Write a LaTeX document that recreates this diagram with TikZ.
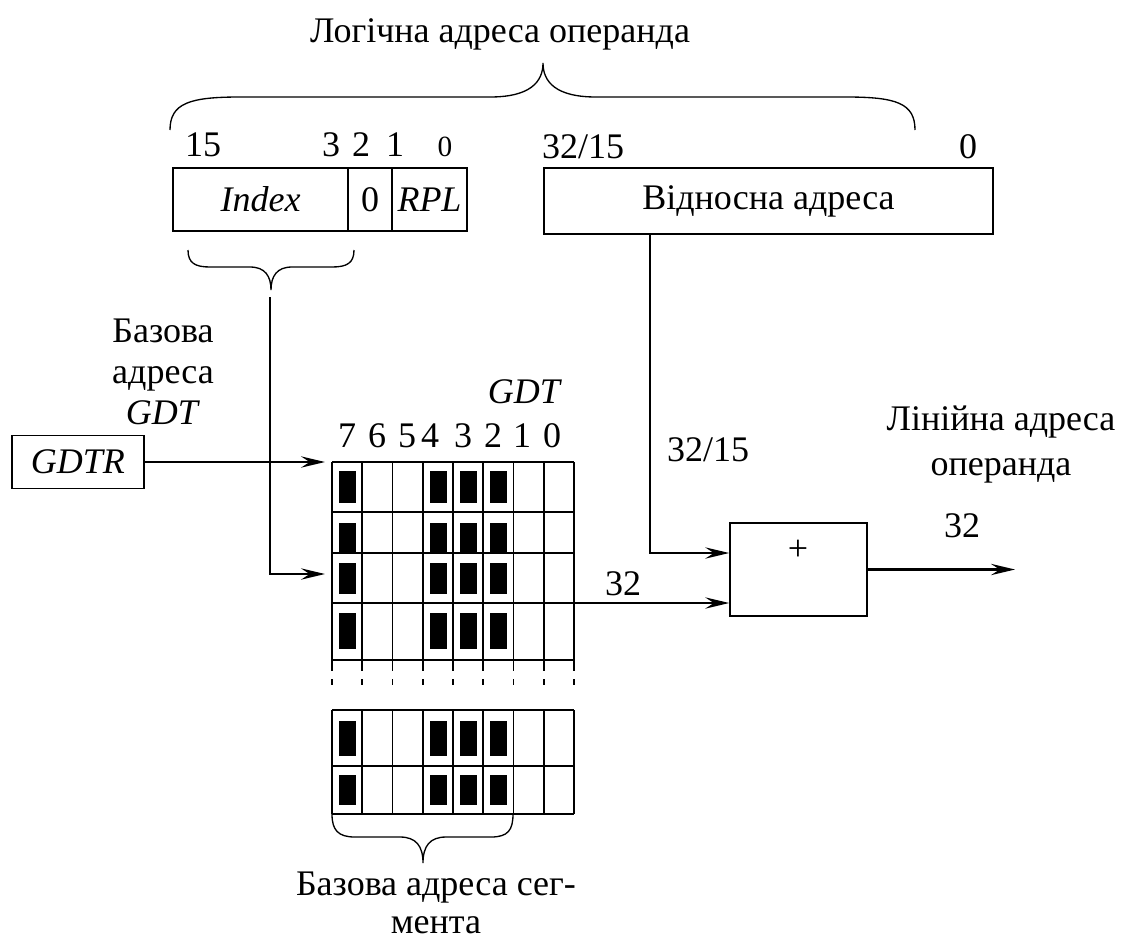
\documentclass[tikz,border=0pt]{standalone}
\usepackage{fontspec}
\setmainfont{Liberation Serif}
\usetikzlibrary{arrows.meta}
\begin{document}
\begin{tikzpicture}[x=0.75pt,y=-0.75pt,
  font=\fontsize{27}{30}\selectfont,
  box/.style={draw, line width=1.2pt, inner sep=0pt, anchor=center},
  lbl/.style={inner sep=0pt, anchor=center},
  small/.style={inner sep=0pt, anchor=center, font=\fontsize{22}{24}\selectfont},
  arr/.style={line width=1.6pt, -{Stealth[length=18pt,width=8.5pt,inset=6.5pt]}},
  brace/.style={line width=1pt},
  gridline/.style={line width=1.2pt}]
\useasboundingbox (0,0) rectangle (1123,940);

% title and big brace
\node[lbl] (title) at (500,34) {Логічна адреса операнда};
\draw[brace] (170,130) .. controls (170,103) and (190,97) .. (240,97) -- (490,97)
  .. controls (530,97) and (543,82) .. (543,63)
  .. controls (543,82) and (556,97) .. (596,97) -- (846,97)
  .. controls (896,97) and (915,103) .. (915,130);

% bit numbers
\node[lbl] (b15) at (203,145) {15};
\node[lbl] (b3) at (331,145) {3};
\node[lbl] (b2) at (361,145) {2};
\node[lbl] (b1) at (395,145) {1};
\node[small] (b0) at (445,147) {0};
\node[lbl] (r32) at (583,147) {32/15};
\node[lbl] (r0) at (968,147) {0};

% selector boxes
\node[box, minimum width=131.25pt, minimum height=47.25pt] (idx) at (260.5,199.5) {\textit{Index}};
\node[box, minimum width=33pt, minimum height=47.25pt] (zero) at (370,199.5) {0};
\node[box, minimum width=56.25pt, minimum height=47.25pt] (rpl) at (429.5,199.5) {\textit{RPL}};
\node[box, minimum width=336.75pt, minimum height=49.5pt] (rel) at (768.5,201) {Відносна адреса};

% small brace under Index
\draw[brace] (188,250) .. controls (188,263) and (195,267) .. (210,267) -- (250,267)
  .. controls (265,267) and (271,276) .. (271,290)
  .. controls (271,276) and (277,267) .. (292,267) -- (332,267)
  .. controls (347,267) and (354,263) .. (354,250);

% GDTR
\node[lbl, align=center, font=\fontsize{27}{30.75}\selectfont] (bgdt) at (163,372) {Базова\\адреса\\\textit{GDT}};
\node[box, minimum width=99pt, minimum height=39.5pt] (gdtr) at (78,462) {\textit{GDTR}};

% GDT table labels
\node[lbl] (gdtl) at (525,392) {\textit{GDT}};
\foreach \t/\x in {7/347,6/377,5/407,4/430,3/463,2/493,1/522,0/552}
  \node[lbl] (c\t) at (\x,436) {\t};

% grid top block
\foreach \y in {462,512,553,603,660}
  \draw[gridline] (332,\y) -- (574,\y);
\foreach \i in {0,...,8}{
  \draw[gridline] (332+30.25*\i,462) -- (332+30.25*\i,671);
  \draw[gridline] (332+30.25*\i,679) -- (332+30.25*\i,685);
  \draw[gridline] (332+30.25*\i,710) -- (332+30.25*\i,814);
}
\foreach \y in {710,766,814}
  \draw[gridline] (332,\y) -- (574,\y);
% black bits
\foreach \c in {0,3,4,5}
  \foreach \ta/\tb in {471/503,523/553,563/594,613/649,721/756,775/805}
    \fill (339+30.25*\c,\ta) rectangle (356+30.25*\c,\tb);

\coordinate (in1) at (325,462);
\coordinate (in2) at (325,574);
\coordinate (bt) at (270,297);
\coordinate (gout) at (574,603);

% bottom brace
\draw[brace] (332,814) .. controls (332,830) and (338,837) .. (355,837) -- (400,837)
  .. controls (416,837) and (423,846) .. (423,863)
  .. controls (423,846) and (430,837) .. (446,837) -- (491,837)
  .. controls (508,837) and (513,830) .. (513,814);
\node[lbl, align=center, font=\fontsize{27}{28.5}\selectfont] (bseg) at (436,903) {Базова адреса сег-\\мента};

% adder
\node[box, minimum width=102.75pt, minimum height=69.75pt] (add) at (798.5,569.5) {};
\node[lbl] (plus) at (798,550) {+};
\coordinate (j1) at (650,553);
\coordinate (out) at (1015,569.5);

\node[lbl] (l3215) at (708,450) {32/15};
\node[lbl] (l32a) at (623,584) {32};
\node[lbl] (l32b) at (962,526) {32};
\node[lbl, align=center, font=\fontsize{27}{33.75}\selectfont] (lin) at (1001,444) {Лінійна адреса\\операнда};

% connectors
\draw[arr] (gdtr.east) -- (in1);
\draw[arr] (bt) |- (in2);
\draw[arr] (rel.south -| j1) |- (add.west |- j1);
\draw[arr] (gout) -- (add.west |- gout);
\draw[arr] (add.east) -- (out);
\end{tikzpicture}
\end{document}
